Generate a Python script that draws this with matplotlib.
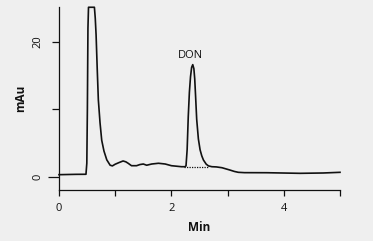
import matplotlib
matplotlib.use("Agg")
import matplotlib.pyplot as plt

# chromatogram trace (time in min, signal in mAu)
time_min = [0.0, 0.30, 0.48, 0.495, 0.505, 0.515, 0.525, 0.63, 0.645, 0.66,
            0.68, 0.70, 0.73, 0.76, 0.80, 0.85, 0.91, 0.95, 1.00, 1.07, 1.14,
            1.19, 1.23, 1.29, 1.38, 1.44, 1.50, 1.56, 1.65, 1.77, 1.89, 2.00,
            2.18, 2.24, 2.26, 2.28, 2.30, 2.32, 2.34, 2.36, 2.38, 2.40, 2.415,
            2.43, 2.45, 2.48, 2.51, 2.54, 2.57, 2.62, 2.66, 2.72, 2.80, 2.90,
            3.04, 3.12, 3.19, 3.30, 3.70, 4.29, 4.70, 5.00]
signal = [0.30, 0.35, 0.36, 2.0, 10.0, 22.0, 25.1, 25.1, 23.5, 21.0,
          16.0, 11.4, 8.0, 5.4, 3.8, 2.5, 1.7, 1.6, 1.85, 2.1, 2.33,
          2.2, 1.99, 1.63, 1.63, 1.8, 1.88, 1.7, 1.88, 1.99, 1.88, 1.63,
          1.48, 1.48, 1.6, 4.0, 8.9, 12.5, 14.8, 16.2, 16.6, 16.0, 14.5,
          12.0, 8.5, 5.6, 4.0, 3.1, 2.47, 1.85, 1.6, 1.48, 1.45, 1.33,
          0.99, 0.78, 0.65, 0.6, 0.59, 0.5, 0.55, 0.65]

# integration baseline under the DON peak
base_t = [2.23, 2.67]
base_y = [1.5, 1.5]

peak_name = "DON"
peak_pos = (2.34, 17.6)

xticks = [0, 1, 2, 3, 4, 5]
xticklabels = ["0", "", "2", "", "4", ""]
yticks = [0, 10, 20]
yticklabels = ["0", "", "20"]

bg = "#efefef"
ink = "#111111"

plt.rcParams["font.family"] = ["Open Sans", "DejaVu Sans"]

fig = plt.figure(figsize=(3.73, 2.41), dpi=100, facecolor=bg)
ax = fig.add_axes([59 / 373, 1 - 190 / 241, 281 / 373, 183 / 241])
ax.set_facecolor(bg)

ax.plot(time_min, signal, color=ink, lw=1.2, solid_joinstyle="round",
        clip_on=False)
ax.plot(base_t, base_y, color=ink, lw=0.9, ls=(0, (1, 1)))
ax.text(peak_pos[0], peak_pos[1], peak_name, ha="center", va="baseline",
        fontsize=8, color=ink)

ax.set_xlim(0, 5)
ax.set_ylim(-1.97, 25.14)

for s in ["top", "right"]:
    ax.spines[s].set_visible(False)
for s in ["left", "bottom"]:
    ax.spines[s].set_color(ink)
    ax.spines[s].set_linewidth(0.9)

ax.set_xticks(xticks)
ax.set_xticklabels(xticklabels)
ax.set_yticks(yticks)
ax.set_yticklabels(yticklabels, rotation=90, va="center")
ax.tick_params(axis="x", direction="out", length=4, width=0.9, pad=5.5,
               labelsize=8, colors=ink)
ax.tick_params(axis="y", direction="out", length=5, width=0.9, pad=6,
               labelsize=8, colors=ink)
# the zero tick is drawn longer in the original
ax.yaxis.get_major_ticks()[0].tick1line.set_markersize(8)

ax.set_xlabel("Min", fontsize=8.5, fontweight="bold", color=ink, labelpad=5)
ax.set_ylabel("mAu", fontsize=8.5, fontweight="bold", color=ink, labelpad=4)

fig.savefig("out.png", dpi=100, facecolor=bg)
